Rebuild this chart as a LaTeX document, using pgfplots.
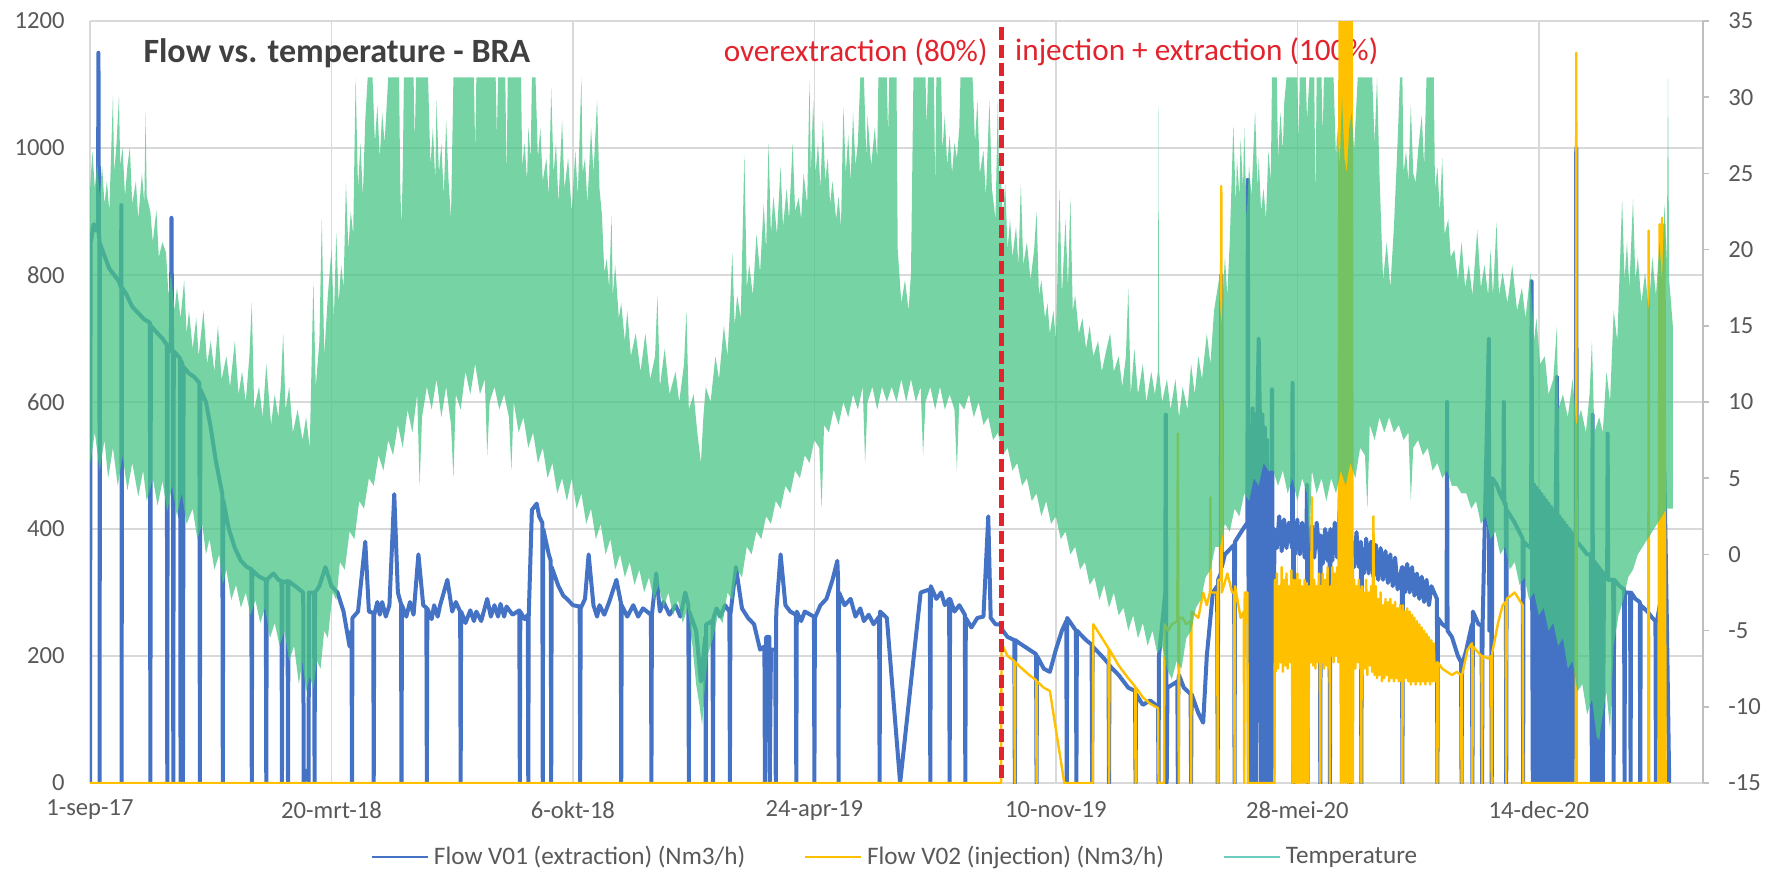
\documentclass[border=0pt]{standalone}
\usepackage{pgfplots}
\pgfplotsset{compat=1.18}
\usepackage{fontspec}
\setmainfont{Carlito}
\definecolor{flowblue}{RGB}{68,114,196}
\definecolor{flowyellow}{RGB}{255,192,0}
\definecolor{tempgreen}{RGB}{72,196,132}
\definecolor{templeg}{RGB}{110,205,190}
\definecolor{gridgrey}{RGB}{217,217,217}
\definecolor{axisgrey}{RGB}{191,191,191}
\definecolor{textgrey}{RGB}{89,89,89}
\definecolor{titlegrey}{RGB}{64,64,64}
\definecolor{annred}{RGB}{225,35,45}
\begin{document}
\begin{tikzpicture}
\path[use as bounding box] (-45pt,-43pt) rectangle (842.5pt,391.5pt);
% ---------------- primary axis: flows ----------------
\begin{axis}[
  at={(0pt,0pt)}, anchor=south west,
  scale only axis, width=806.5pt, height=381pt,
  xmin=0, xmax=1336, ymin=0, ymax=1200,
  xtick={0,200,...,1200},
  xticklabels={1-sep-17,20-mrt-18,6-okt-18,24-apr-19,10-nov-19,28-mei-20,14-dec-20},
  ytick={0,200,...,1200},
  yticklabels={0,200,400,600,800,1000,1200},
  grid=major, grid style={gridgrey, line width=0.7pt},
  axis line style={draw=none},
  major tick length=0pt,
  tick label style={font=\fontsize{12.3}{14}\selectfont, text=textgrey},
  xticklabel style={anchor=center, yshift=-13.5pt, inner sep=0pt},
  yticklabel style={anchor=east, xshift=-12.5pt, inner sep=0pt},
]
\node[anchor=east, inner sep=0pt, text=annred, font=\fontsize{15.6}{18}\selectfont] at (axis cs:743.7,1151) {overextraction (80\%)};
\node[anchor=west, inner sep=0pt, text=annred, font=\fontsize{15.6}{18}\selectfont] at (axis cs:766,1151) {injection + extraction (100\%)};
% Flow V01 (extraction)
\addplot[flowblue, line width=2pt, line join=round] coordinates {
(0,0) (0.5,850) (3,880) (5,870) (6.6,870) (7,1150) (7.4,860) (7.8,860) (8,0) (8.2,850) (12,830) (16,810) (20,800) (24,790) (25.6,780) (26,910) (26.2,0) (26.5,780) (30,770) (35,750) (40,740) (45,730) (49.6,725) (50,0) (50.4,720) (55,710) (60,700) (63.6,690) (64,0) (64.4,690) (67,680) (67.5,890) (68,680) (68.6,680) (69,0) (69.4,680) (74,670) (74.6,668) (75,0) (75.4,665) (76.5,660) (77,0) (77.5,655) (82,645) (86,640) (90.6,630) (91,0) (91.4,620) (96,600) (100,560) (104,510) (108,470) (109.6,455) (110,0) (110.4,445) (115,400) (120,370) (125,350) (130,340) (133.6,337) (134,0) (134.4,335) (140,325) (145.6,320) (146,0) (146.4,320) (152,330) (156,320) (158.6,318) (159,0) (159.4,316) (163.6,318) (164,0) (164.4,318) (170,310) (176.6,300) (177,0) (178,20) (180,15) (181,0) (181.4,300) (185.6,300) (186,0) (186.4,300) (190,310) (195,340) (200,310) (205,300) (210,270) (215,215) (216.6,240) (217,0) (217.4,260) (222,270) (228,380) (231,270) (234.6,268) (235,0) (235.4,265) (238,285) (240,265) (242,285) (245,262) (248,280) (252,455) (255,300) (257.6,282) (258,0) (258.4,280) (262,262) (265,285) (268,265) (272,360) (276,280) (278.6,276) (279,0) (279.4,275) (283,258) (285,280) (288,262) (290,280) (296,320) (300,270) (303,285) (306.6,270) (307,0) (307.4,270) (311,252) (315,272) (318,255) (320,270) (324,255) (329,290) (332,262) (335,280) (338,262) (340,282) (343,262) (345,278) (350,265) (355.6,272) (356,0) (356.4,270) (360,258) (362.6,265) (363,0) (363.4,265) (366,430) (370,440) (372,420) (374.6,410) (375,0) (375.4,400) (380,360) (381.6,350) (382,0) (382.4,340) (388,310) (392,295) (395,290) (400,280) (405.6,278) (406,0) (406.4,275) (410,290) (413,360) (417,280) (420,262) (422,280) (426,265) (430,285) (436,320) (439.6,285) (440,0) (440.4,280) (445,262) (450,280) (454,262) (458,275) (464.6,265) (465,0) (465.4,265) (469,330) (472,270) (475,285) (480,265) (485,280) (489,262) (493,300) (495.6,280) (496,0) (496.4,270) (502,240) (506,160) (508,200) (509.6,230) (510,0) (510.4,250) (515.6,255) (516,0) (516.4,260) (519,275) (522,262) (526,280) (529.6,270) (530,0) (530.4,265) (535,340) (540,275) (545,260) (550,250) (555,210) (558.6,215) (559,0) (560,230) (562.6,230) (563,0) (564,210) (567.6,210) (568,0) (568.4,270) (572,360) (576,280) (580,270) (584.6,265) (585,0) (585.4,270) (589,255) (592,270) (599.6,262) (600,0) (600.4,260) (605,280) (610,290) (615,320) (619,350) (619.6,320) (620,0) (620.4,300) (625,280) (630,290) (634,262) (638,275) (641,255) (645,265) (649,250) (653.6,262) (654,0) (654.4,270) (660,260) (671,0) (688,300) (695.6,305) (696,0) (696.4,310) (701,290) (705,300) (708,280) (711.6,290) (712,0) (712.4,290) (716,270) (720,280) (724.6,265) (725,0) (725.4,260) (730,245) (735,260) (740,262) (744,420) (746,260) (750,250) (754,250)
(756,240) (760,230) (765.6,225) (766,0) (766.4,225) (770,220) (778,210) (783.6,203) (784,0) (784.4,200) (790,180) (795,175) (800,210) (805,240) (808.6,255) (809,0) (809.4,260) (816.6,240) (817,0) (817.4,240) (825,225) (829.6,218) (830,0) (830.4,215) (838,200) (843.6,188) (844,0) (844.4,185) (852,170) (860,150) (865.6,145) (866,0) (866.4,140) (872,123) (878,130) (884.6,120) (885,0) (885.4,200) (890.6,300) (891,580) (891.4,200) (891.8,0) (892.4,150) (900.6,160) (901,0) (901.4,160) (902,170) (906,150) (911.6,140) (912,0) (912.4,140) (918,110) (922,95) (925,200) (930,300) (933.6,310) (934,0) (934.4,320) (936.6,330) (937,800) (937.4,340) (940,360) (947.6,375) (948,0) (948.4,380) (955,400) (958.6,410) (959,950) (959.4,420) (960,0)
(961,560) (962,0) (963,590) (964,0) (965,580) (966,0) (967,590) (968,700) (969,570) (970,0) (971,580) (972,0) (973,560) (974,0) (975,540) (976,0) (977,450) (978,0) (979,620) (980,0) (981,400)
(983,370) (985,420) (987,365) (989,415) (991,370) (993,410) (995.6,370) (996,630) (996.4,400) (996.8,0) (997.2,400) (998,360) (1000,415) (1002,360) (1004,410) (1006,355) (1007.6,400) (1008,470) (1008.4,0) (1008.8,400) (1010,350) (1012,405) (1014,355) (1016,410) (1018.6,360) (1019,0) (1019.4,390) (1021,345) (1023,400) (1025,350) (1026.6,395) (1027,0) (1027.4,400) (1029,350) (1031,410) (1033,355) (1035,430) (1037,360) (1039,400) (1042.6,350) (1043,0) (1045,0) (1045.4,380) (1047,340) (1049,395) (1051,340) (1052.6,380) (1053,0) (1053.4,370) (1055,330) (1057,385) (1059,330) (1061,380) (1063,325) (1065,375) (1067,320) (1069,370) (1071,320) (1073,365) (1075,315) (1077,360) (1079,310) (1081,355) (1083,305) (1086.6,340) (1087,0) (1087.4,340) (1089,300) (1091,345) (1093,300) (1095,340) (1097,295) (1099,330) (1101,290) (1103,325) (1105,285) (1107,320) (1109,280) (1111,310) (1115.6,290) (1116,0) (1116.4,260) (1120,250) (1123.6,245) (1124,600) (1124.4,240) (1128,230) (1133,200) (1135.6,190) (1136,0) (1136.4,185) (1140,210) (1144.6,250) (1145,0) (1145.4,270) (1150,250) (1152.6,248) (1153,0) (1153.4,245) (1158.6,700) (1159,240) (1160.6,240) (1161,0) (1161.4,480) (1165,470) (1168,455) (1170.6,445) (1171,600) (1171.4,440) (1172.6,440) (1173,0) (1173.4,430) (1180,410) (1186.6,385) (1187,0) (1187.4,380) (1190,375) (1193.6,370) (1194,790) (1194.4,365) (1195,0)
(1196,470) (1197,0) (1198,465) (1199,0) (1200,460) (1201,0) (1202,455) (1203,0) (1204,450) (1205,0) (1206,445) (1207,0) (1208,440) (1209,0) (1210,435) (1211,0) (1212,430) (1213,0) (1214,425) (1215,640) (1216,0) (1217,420) (1218,0) (1219,415) (1220,0) (1221,410) (1222,0) (1223,405) (1224,0) (1225,400) (1226,0) (1227,395) (1228,0) (1229,390) (1230.6,390) (1231,1000) (1231.4,380) (1236,370) (1240,360) (1243,360) (1244,0) (1244.5,580) (1245,0) (1246,350) (1247,0) (1248,345) (1249,0) (1250,340) (1251,0) (1252,335) (1253,0) (1254,330) (1256.6,330) (1257,550) (1257.4,320) (1261.6,320) (1262,0) (1262.4,320) (1267,310) (1270.6,305) (1271,0) (1271.4,300) (1275.6,300) (1276,0) (1276.4,300) (1280,290) (1283.6,285) (1284,0) (1284.4,280) (1290,270) (1294,260) (1296.6,255) (1297,0) (1297.4,250) (1302,300) (1304,490) (1306,260) (1308,0)
};
% Flow V02 (injection)
\addplot[flowyellow, line width=1.2pt, line join=round] coordinates {
(0,0) (754.6,0) (755,220) (760,200) (765.6,192) (766,0) (766.4,190) (772,180) (778,170) (783.6,162) (784,0) (784.4,160) (790,150) (795,145) (807,0) (830.6,0) (831,250) (836,235) (843.6,212) (844,0) (844.4,210) (852,185) (860,165) (865.6,152) (866,0) (866.4,150) (872,135) (878,125) (884.6,118) (885,0) (889.6,0) (890,250) (893,240) (896,250) (900.6,255) (901,550) (901.4,255) (901.8,0) (902.2,260) (905,260) (908,250) (911.6,255) (912,0) (912.4,270) (918,260) (922,300) (925,280) (927.6,300) (928,450) (928.4,300) (933.6,300) (934,0) (934.4,320) (936.6,320) (937,940) (937.4,300) (942,330) (946,300) (947.6,300) (948,0) (948.4,310) (953,260) (955.6,270) (956,0) (956.4,300) (958.6,300) (959,0) (981,0)
(981.4,320) (982,175) (983,330) (984,180) (985,310) (986,190) (987,340) (988,175) (989,320) (990,185) (991,330) (992,180) (993,310) (994,190) (995,335) (995.6,200) (996,0) (996.4,320) (997,0) (998,320) (999,0) (1000,330) (1001,0) (1002,320) (1003,0) (1004,310) (1005,0) (1006,320) (1007,0) (1008,315) (1009,0) (1010,310) (1011,190) (1012,450) (1013,185) (1014,320) (1015,180) (1016,310) (1017,190) (1018,330) (1018.6,200) (1019,0) (1019.4,310) (1020,190) (1021,330) (1022,180) (1023,320) (1024,185) (1025,340) (1026,180) (1026.6,300) (1027,0) (1027.4,310) (1028,200) (1029,340) (1030,190) (1031,330) (1032,200) (1033,340) (1034,190) (1035,1250) (1036,0) (1037,1250) (1038,0) (1039,1250) (1040,0) (1041,1250) (1042,0) (1043,1250) (1044,0) (1045,1250) (1046,0) (1046.4,300) (1047,320) (1048,180) (1049,310) (1050,190) (1051,320) (1052,180) (1052.6,300) (1053,0) (1053.4,310) (1054,170) (1055,300) (1056,180) (1057,320) (1058,170) (1059,300) (1060,185) (1061,310) (1062,175) (1063,420) (1064,170) (1065,310) (1066,165) (1067,290) (1068,170) (1069,300) (1070,160) (1071,280) (1072,165) (1073,290) (1074,170) (1075,285) (1076,160) (1077,290) (1078,165) (1079,280) (1080,160) (1081,285) (1082,165) (1083,275) (1084,160) (1085,280) (1086,160) (1086.6,270) (1087,0) (1087.4,280) (1088,160) (1089,270) (1090,165) (1091,275) (1092,160) (1093,270) (1094,155) (1095,265) (1096,160) (1097,260) (1098,155) (1099,255) (1100,160) (1101,250) (1102,155) (1103,245) (1104,160) (1105,240) (1106,155) (1107,235) (1108,160) (1109,230) (1110,155) (1111,225) (1112,160) (1113,220) (1114,160) (1115.6,190) (1116,0) (1116.4,190) (1120,180) (1124,175) (1128,170) (1132,175) (1135.6,170) (1136,0) (1136.4,170) (1141,210) (1144.6,220) (1145,0) (1145.4,215) (1150,205) (1152.6,200) (1153,0) (1153.4,200) (1158,196) (1160.6,200) (1161,0) (1161.4,205) (1166,250) (1170,280) (1172.6,285) (1173,0) (1173.4,290) (1180,300) (1186.6,280) (1187,0) (1230.6,0) (1231,1150) (1231.4,0) (1290.6,0) (1291,870) (1291.4,0) (1299,0) (1300,880) (1301,0) (1302,890) (1303,0) (1304,880) (1305,0) (1308,0)
};
\end{axis}
% ---------------- secondary axis: temperature ----------------
\begin{axis}[
  at={(0pt,0pt)}, anchor=south west,
  scale only axis, width=806.5pt, height=381pt,
  xmin=0, xmax=1336, ymin=-15, ymax=35,
  axis x line=none, axis y line*=right,
  ytick={-15,-10,...,35},
  yticklabels={-15,-10,-5,0,5,10,15,20,25,30,35},
  y axis line style={draw=axisgrey, line width=0.8pt},
  ytick style={draw=axisgrey, line width=0.8pt},
  major tick length=3pt, tick align=outside,
  yticklabel style={font=\fontsize{12.3}{14}\selectfont, text=textgrey, anchor=west, inner sep=0pt, xshift=9.5pt},
  legend columns=3,
  legend image code/.code={\draw[#1] (0pt,0pt) -- (28pt,0pt);},
  legend style={at={(0.5,-0.0971)}, anchor=center, draw=none, fill=none,
    font=\fontsize{12.6}{15}\selectfont, text=textgrey,
    nodes={inner sep=0pt, inner xsep=2.5pt},
    /tikz/every even column/.append style={column sep=27pt}},
]
% Temperature band: daily maxima forward, then daily minima backward
\addplot[fill=tempgreen, fill opacity=0.75, draw=none, forget plot] coordinates {
(0,23.9) (2,26.5) (4,24.0) (6,25.8) (8,23.5) (10,25.5) (12,23.0) (14,24.5) (16,22.5) (19,30.1) (20,25.0) (22,27.0) (24,30.1) (25,25.5) (27,26.7) (29,23.5) (31,25.5) (33,26.7) (35,23.0) (38,24.5) (40,22.0) (43,25.0) (45,23.0) (46,29.0) (47,23.5) (50,22.5) (52,20.5) (55,22.6) (57,19.5) (60,20.5) (63,19.8) (65,17.0) (67,18.5) (70,16.0) (72,17.5) (75,15.5) (78,18.0) (80,14.5) (82,16.0) (85,13.5) (88,15.5) (90,13.0) (94,16.0) (97,12.5) (100,14.0) (103,12.0) (106,15.0) (109,11.5) (113,13.0) (116,11.0) (120,14.0) (123,10.5) (126,12.0) (129,10.0) (132,13.0) (134,16.5) (136,9.5) (140,11.0) (143,9.0) (146,12.5) (150,8.5) (153,10.5) (156,9.0) (158,11.0) (160,14.5) (162,9.5) (165,11.0) (168,8.0) (172,9.5) (176,7.5) (179,9.0) (182,7.0) (185,17.9) (187,11.0) (190,14.0) (192,22.1) (194,13.0) (197,17.0) (200,20.0) (202,15.5) (204,21.1) (206,16.5) (208,19.0) (210,17.5) (212,24.4) (214,20.0) (216,22.5) (218,21.0) (220,31.3) (222,24.0) (224,27.0) (226,23.5) (228,28.5) (230,31.3) (234,31.3) (236,27.0) (238,29.5) (240,26.0) (242,29.0) (244,27.0) (247,31.3) (256,31.3) (257,24.0) (258,21.5) (259,25.0) (260,31.3) (268,31.3) (269,27.0) (270,31.3) (280,31.3) (282,25.5) (284,28.0) (286,24.5) (287,29.8) (289,25.0) (291,27.0) (293,23.5) (295,28.5) (297,24.5) (299,22.0) (301,31.3) (318,31.3) (319,26.5) (320,31.3) (336,31.3) (337,27.5) (338,31.3) (344,31.3) (345,24.5) (346,31.3) (357,31.3) (358,25.5) (360,27.0) (362,24.5) (363,28.0) (365,26.0) (366,31.3) (369,31.3) (371,26.0) (373,28.0) (375,24.5) (378,26.0) (380,23.5) (382,30.6) (384,25.0) (386,27.0) (388,23.0) (391,28.5) (393,24.0) (396,26.0) (399,22.5) (402,26.5) (404,23.5) (407,31.3) (408,25.0) (410,26.0) (412,23.0) (415,28.0) (417,25.0) (420,29.8) (422,24.0) (424,22.3) (426,18.5) (428,19.4) (430,17.5) (432,22.3) (433,17.0) (435,19.0) (438,15.5) (440,16.5) (443,14.0) (445,16.0) (448,13.0) (452,14.5) (456,12.0) (460,14.5) (464,11.5) (468,13.0) (470,17.0) (472,11.0) (476,13.5) (480,10.5) (485,12.0) (488,10.0) (492,12.5) (494,16.0) (496,9.5) (500,10.5) (503,8.0) (506,6.0) (508,9.0) (510,11.0) (514,10.0) (518,13.0) (521,11.5) (525,15.0) (528,13.0) (530,16.0) (532,19.8) (534,15.0) (536,17.0) (539,15.5) (542,26.3) (544,17.5) (546,19.0) (549,17.0) (552,21.0) (555,18.5) (558,23.0) (560,20.0) (562,27.0) (564,21.0) (566,23.5) (569,21.0) (572,25.5) (574,21.5) (577,24.0) (579,22.0) (582,27.0) (584,22.5) (587,23.4) (589,22.0) (591,25.0) (594,23.0) (596,31.2) (597,25.0) (599,29.8) (601,25.0) (603,27.0) (605,24.0) (607,28.5) (609,24.5) (611,26.0) (613,23.0) (615,24.5) (618,22.0) (620,23.5) (622,21.5) (624,29.4) (626,25.0) (628,27.5) (630,24.5) (632,29.0) (634,25.5) (636,27.0) (638,31.3) (641,31.3) (643,26.0) (644,28.8) (647,25.5) (650,28.0) (652,26.0) (653,31.3) (660,31.3) (661,27.5) (662,31.3) (668,31.3) (669,20.0) (672,16.5) (675,18.0) (678,16.0) (680,18.5) (682,31.3) (692,31.3) (693,28.0) (694,31.3) (699,31.3) (700,24.0) (701,31.3) (705,31.3) (706,26.5) (708,28.8) (710,25.5) (712,27.5) (714,25.0) (716,27.0) (718,26.0) (720,28.0) (721,31.3) (731,31.3) (733,27.0) (735,29.8) (737,25.0) (740,26.5) (742,23.5) (745,29.8) (747,24.0) (750,22.0) (752,30.2) (753,24.0) (754,26.0) (756,22.0) (758,24.4) (760,20.0) (762,22.0) (764,19.5) (767,21.5) (769,19.0) (771,24.3) (773,19.0) (776,20.5) (779,18.0) (782,20.0) (784,22.5) (786,17.0) (788,18.0) (791,15.5) (793,16.5) (795,14.5) (798,16.0) (800,14.0) (803,23.9) (805,17.0) (808,22.0) (810,17.5) (812,23.4) (814,16.0) (816,17.0) (819,14.5) (822,15.5) (825,13.5) (828,15.0) (831,13.0) (835,14.0) (838,12.0) (842,13.5) (845,14.5) (848,12.0) (852,13.0) (855,11.0) (858,13.0) (860,17.5) (862,10.5) (865,13.5) (868,10.5) (872,12.5) (875,10.0) (879,12.0) (882,10.5) (884.5,12.0) (885,29.4) (885.5,12.0) (888,10.0) (892,11.5) (895,9.5) (899,11.5) (902,9.0) (905,11.0) (909,9.5) (912,12.5) (915,10.5) (918,13.0) (921,11.5) (925,14.5) (928,12.5) (931,16.0) (935,18.0) (937,15.0) (940,19.5) (942,17.0) (944,20.5) (947,28.2) (949,23.0) (950,26.0) (952,23.5) (953,27.3) (955,24.0) (956,28.0) (958,22.0) (960,25.5) (962,23.5) (965,29.1) (967,24.0) (968,26.0) (970,22.5) (972,24.0) (974,22.0) (976,26.5) (978,24.5) (979,31.3) (983,31.3) (984,26.0) (986,29.0) (988,26.5) (989,29.5) (991,31.3) (1000,31.3) (1001,27.0) (1002,31.3) (1007,31.3) (1008,28.5) (1010,31.3) (1014,31.3) (1015,23.0) (1016,31.3) (1020,31.3) (1021,27.5) (1022,31.3) (1030,31.3) (1032,26.0) (1033,28.0) (1035,25.5) (1037,30.0) (1039,26.0) (1041,25.0) (1043,28.0) (1045,29.0) (1047,26.5) (1050,31.3) (1062,31.3) (1064,27.0) (1066,31.3) (1068,25.0) (1071,18.0) (1074,20.5) (1077,17.5) (1080,21.5) (1083,27.0) (1085,31.3) (1087,31.3) (1088,25.0) (1090,26.5) (1092,24.5) (1094,29.5) (1096,25.0) (1098,24.4) (1100,26.5) (1103,28.8) (1105,25.5) (1107,31.3) (1113,31.3) (1114,24.0) (1116,25.4) (1118,22.5) (1120,26.0) (1122,21.0) (1125,22.0) (1127,19.5) (1130,20.0) (1133,18.0) (1136,20.5) (1139,17.5) (1142,19.0) (1145,17.0) (1149,21.3) (1152,17.5) (1155,19.0) (1158,17.0) (1160,20.0) (1162,17.0) (1165,21.8) (1167,17.0) (1170,18.5) (1174,16.5) (1178,19.0) (1182,16.0) (1186,17.5) (1189,15.5) (1193,18.5) (1196,14.0) (1198,15.5) (1201,12.5) (1205,13.0) (1208,10.5) (1212,11.5) (1215,15.0) (1216,9.5) (1220,10.5) (1224,9.0) (1228,11.5) (1231,8.5) (1235,9.5) (1239,8.0) (1242,10.5) (1244,14.0) (1246,8.0) (1250,9.0) (1253,8.0) (1256,12.0) (1259,10.0) (1262,16.0) (1265,14.0) (1269,23.3) (1271,18.0) (1273,20.5) (1275,17.5) (1278,23.3) (1280,18.0) (1282,19.5) (1285,16.5) (1288,18.5) (1291,16.0) (1294,19.5) (1297,17.0) (1300,20.5) (1302,18.0) (1304,23.0) (1306,19.0) (1307,31.3) (1308,18.0) (1311,15.0)
(1311,3.0) (1306,3.0) (1302,2.5) (1298,2.0) (1294,1.5) (1290,1.0) (1286,0.5) (1282,0.0) (1278,-1.0) (1274,-1.5) (1270,-3.0) (1266,-4.0) (1262,-6.0) (1259,-11.5) (1256,-9.0) (1252,-11.0) (1250,-12.2) (1248,-12.0) (1244,-9.5) (1240,-10.5) (1236,-8.5) (1232,-9.0) (1228,-7.0) (1224,-7.5) (1220,-5.5) (1216,-6.0) (1212,-4.5) (1208,-5.0) (1204,-3.5) (1200,-4.0) (1196,-2.5) (1192,-3.0) (1188,-1.5) (1184,-2.0) (1180,-0.5) (1176,-1.0) (1172,0.5) (1168,0.0) (1164,1.5) (1160,1.0) (1156,2.5) (1152,2.0) (1148,3.5) (1144,3.0) (1140,4.0) (1136,4.0) (1132,4.5) (1128,4.5) (1124,5.5) (1120,5.0) (1116,6.0) (1112,5.5) (1108,7.0) (1104,6.5) (1100,7.5) (1096,7.0) (1094,3.5) (1092,8.0) (1088,7.5) (1084,8.5) (1080,8.0) (1076,9.0) (1072,8.0) (1068,9.0) (1064,7.5) (1060,8.5) (1058,3.0) (1056,6.5) (1052,7.0) (1048,5.0) (1044,6.0) (1040,4.5) (1036,5.5) (1032,4.0) (1028,5.0) (1024,3.5) (1020,5.0) (1016,4.0) (1012,5.5) (1010,0.5) (1008,4.0) (1004,5.0) (1000,3.5) (996,5.0) (992,4.0) (988,5.5) (984,4.5) (980,5.5) (976,5.5) (972,6.0) (968,4.5) (964,5.0) (960,3.5) (956,4.0) (952,2.5) (948,3.0) (944,1.5) (940,2.0) (936,0.5) (932,0.5) (928,-1.0) (924,-1.5) (920,-3.0) (916,-3.5) (912,-5.0) (908,-5.5) (904,-7.5) (900,-7.0) (896,-8.2) (892,-7.5) (888,-6.0) (884,-6.5) (880,-5.0) (876,-6.0) (872,-4.5) (868,-5.5) (864,-4.0) (860,-5.0) (856,-3.5) (852,-4.0) (848,-2.5) (844,-3.5) (840,-2.0) (836,-3.0) (832,-1.5) (828,-2.0) (824,-0.5) (820,-1.0) (816,0.5) (812,0.0) (808,1.5) (804,1.0) (800,2.5) (796,2.0) (792,3.5) (788,2.5) (784,4.0) (780,3.5) (776,5.0) (772,4.5) (768,6.0) (764,5.5) (760,7.0) (756,6.5) (752,8.0) (748,7.5) (744,9.0) (740,8.5) (736,10.0) (732,9.0) (728,10.5) (724,9.5) (720,10.0) (718,5.5) (716,9.5) (712,10.5) (708,9.5) (704,11.0) (700,9.5) (696,11.0) (692,10.0) (690,6.5) (688,11.0) (684,10.0) (680,11.5) (676,10.0) (672,11.5) (668,10.0) (664,11.0) (660,10.0) (656,11.0) (652,9.5) (648,11.0) (644,10.0) (642,6.0) (640,11.0) (636,9.5) (632,10.5) (628,9.0) (624,10.0) (620,8.5) (616,9.5) (612,8.0) (608,8.5) (606,3.0) (604,7.0) (600,7.5) (596,6.0) (592,6.5) (588,5.0) (584,5.5) (580,4.0) (576,4.5) (572,3.0) (568,3.5) (564,2.0) (560,2.5) (556,1.0) (552,1.5) (548,0.0) (544,0.5) (540,-1.5) (536,-1.0) (532,-3.0) (528,-2.5) (524,-4.5) (520,-4.0) (516,-5.5) (512,-6.5) (509,-9.0) (507,-11.2) (505,-10.0) (502,-8.5) (499,-6.0) (495,-3.5) (491,-4.5) (487,-3.0) (483,-4.0) (479,-2.5) (475,-3.5) (471,-2.0) (467,-3.0) (463,-1.5) (459,-2.5) (455,-1.0) (451,-2.0) (447,-0.5) (443,-1.5) (439,0.0) (435,-1.0) (431,1.0) (427,0.0) (423,2.0) (419,1.0) (415,3.0) (411,2.0) (407,4.0) (403,3.0) (399,5.0) (395,3.5) (391,5.0) (387,4.0) (383,6.0) (379,5.0) (375,7.0) (371,6.0) (367,8.0) (363,7.0) (359,9.0) (355,8.0) (351,10.0) (349,5.5) (347,9.0) (343,10.5) (339,9.5) (335,11.0) (331,10.0) (329,6.5) (327,11.5) (323,10.5) (319,12.5) (315,10.5) (311,12.0) (307,9.5) (303,10.5) (301,5.0) (299,8.5) (295,11.0) (291,9.0) (287,11.5) (283,9.5) (279,11.0) (275,9.0) (273,4.5) (271,10.5) (267,8.0) (263,9.5) (259,7.0) (255,8.5) (251,6.5) (247,7.5) (243,5.5) (239,6.5) (235,4.5) (231,5.0) (227,3.0) (223,3.5) (219,1.0) (215,1.5) (211,-1.0) (207,-0.5) (204,-3.0) (201,-2.5) (197,-5.5) (194,-5.0) (191,-7.5) (188,-7.0) (185,-8.8) (182,-8.0) (179,-9.0) (176,-7.0) (173,-8.5) (169,-6.0) (165,-7.0) (161,-5.0) (157,-6.0) (153,-4.5) (149,-5.5) (145,-3.5) (141,-4.5) (137,-3.0) (133,-4.0) (129,-2.5) (125,-3.5) (121,-2.0) (117,-3.0) (113,-1.0) (110,-2.0) (107,0.0) (103,-1.0) (99,1.0) (96,0.0) (93,2.0) (89,1.0) (85,3.0) (80,2.0) (76,4.0) (72,2.5) (68,4.5) (64,2.8) (60,4.8) (56,3.2) (52,5.0) (47,3.5) (44,5.5) (40,3.8) (35,6.0) (31,4.2) (27,6.5) (23,4.5) (19,7.0) (15,5.0) (12,7.5) (8,5.5) (4,8.0) (0,5.9)
} -- cycle;
\addlegendimage{flowblue, line width=1.1pt}
\addlegendentry{Flow V01 (extraction) (Nm3/h)}
\addlegendimage{flowyellow, line width=0.9pt}
\addlegendentry{Flow V02 (injection) (Nm3/h)}
\addlegendimage{templeg, line width=0.9pt}
\addlegendentry{Temperature}
\draw[annred, line width=2.1pt, dash pattern=on 6.5pt off 2.5pt] (axis cs:755,34.6) -- (axis cs:755,-15);
\node[anchor=west, inner sep=0pt, text=titlegrey, font=\bfseries\fontsize{17}{20}\selectfont] at (axis cs:44,32.9) {Flow vs. temperature - BRA};
\end{axis}
\end{tikzpicture}
\end{document}
